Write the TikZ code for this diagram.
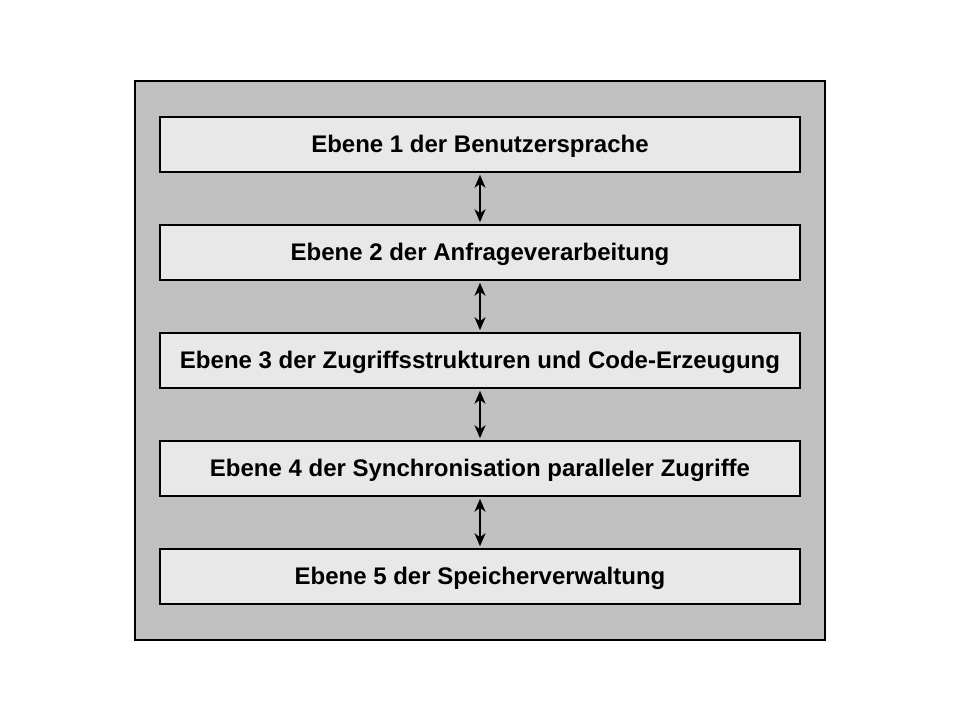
\documentclass[tikz,border=0pt]{standalone}
\usepackage{fontspec}
\setmainfont{Liberation Sans}
\usetikzlibrary{arrows.meta}
\definecolor{outerfill}{HTML}{C0C0C0}
\definecolor{boxfill}{HTML}{E8E8E8}
\begin{document}
\begin{tikzpicture}[x=1pt,y=-1pt,
  layerbox/.style={draw=black,line width=2pt,fill=boxfill,minimum width=640pt,minimum height=55.5pt,inner sep=0pt,text height=15.6pt,text depth=0pt,font=\fontsize{24}{26}\selectfont\bfseries},
  biarrow/.style={{Stealth[length=13pt,width=11pt,inset=4pt]}-{Stealth[length=13pt,width=11pt,inset=4pt]},line width=2.2pt,shorten <=1.5pt,shorten >=1.5pt}]
\useasboundingbox (0,0) rectangle (960,720);
\fill[white] (0,0) rectangle (960,720);
\draw[line width=2pt,fill=outerfill] (135,80.5) rectangle (824.5,640);
\node[layerbox] (e1) at (480,144.5) {Ebene 1 der Benutzersprache};
\node[layerbox] (e2) at (480,252.5) {Ebene 2 der Anfrageverarbeitung};
\node[layerbox] (e3) at (480,360.5) {Ebene 3 der Zugriffsstrukturen und Code-Erzeugung};
\node[layerbox] (e4) at (480,468.5) {Ebene 4 der Synchronisation paralleler Zugriffe};
\node[layerbox] (e5) at (480,576.5) {Ebene 5 der Speicherverwaltung};
\draw[biarrow] (e1.south) -- (e2.north);
\draw[biarrow] (e2.south) -- (e3.north);
\draw[biarrow] (e3.south) -- (e4.north);
\draw[biarrow] (e4.south) -- (e5.north);
\end{tikzpicture}
\end{document}
